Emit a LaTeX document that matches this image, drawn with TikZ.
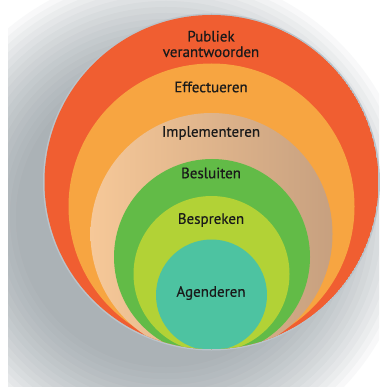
\documentclass[tikz,border=0pt]{standalone}
\usepackage{fontspec}
\setmainfont[FakeBold=0.5]{PT Sans}
\usetikzlibrary{fadings}
\definecolor{cRed}{HTML}{F05E31}
\definecolor{cOrange}{HTML}{F7A541}
\definecolor{cTanL}{HTML}{F6C898}
\definecolor{cTanR}{HTML}{C7A07F}
\definecolor{cGreen}{HTML}{62BB47}
\definecolor{cLime}{HTML}{B2D236}
\definecolor{cTeal}{HTML}{4DC3A1}
\definecolor{cShadow}{HTML}{7A848B}
\definecolor{cRim}{HTML}{BAC4CB}
\definecolor{cText}{HTML}{1A1A1A}
\tikzset{
  lbl/.style={font=\fontsize{15}{15.5}\selectfont, text=cText, inner sep=0pt, align=center},
}
\begin{document}
\begin{tikzpicture}[x=1pt,y=-1pt]
\useasboundingbox (0,0) rectangle (379,387);
\fill[white] (0,0) rectangle (379,387);
% soft shadow behind the disc
\begin{scope}
  \clip (8,0) rectangle (379,387);
  \foreach \r in {150,156,...,250} {
    \fill[cShadow, opacity=0.05] (166,217) circle (\r pt);
  }
\end{scope}
% rim of the outer disc
\fill[cRim] (211.5,182) circle (168.5pt);
\begin{scope}
  \clip (211.5,182) circle (167pt);
  \fill[cRed] (211.5,182) circle (167pt);
  \fill[cOrange] (211.5,206.5) circle (143pt);
  \shade[left color=cTanL, right color=cTanR] (211.5,234) circle (121pt);
  \fill[cGreen] (212,257) circle (98pt);
  \fill[cLime] (211.5,274) circle (78pt);
  \fill[cTeal] (211.5,295) circle (55.5pt);
\end{scope}
\node[lbl] (publiek) at (211,44) {Publiek\\verantwoorden};
\node[lbl] (effect) at (211,87) {Effectueren};
\node[lbl] (impl) at (211,133) {Implementeren};
\node[lbl] (besl) at (211,173) {Besluiten};
\node[lbl] (bespr) at (211,220) {Bespreken};
\node[lbl] (agend) at (211,293) {Agenderen};
\end{tikzpicture}
\end{document}
